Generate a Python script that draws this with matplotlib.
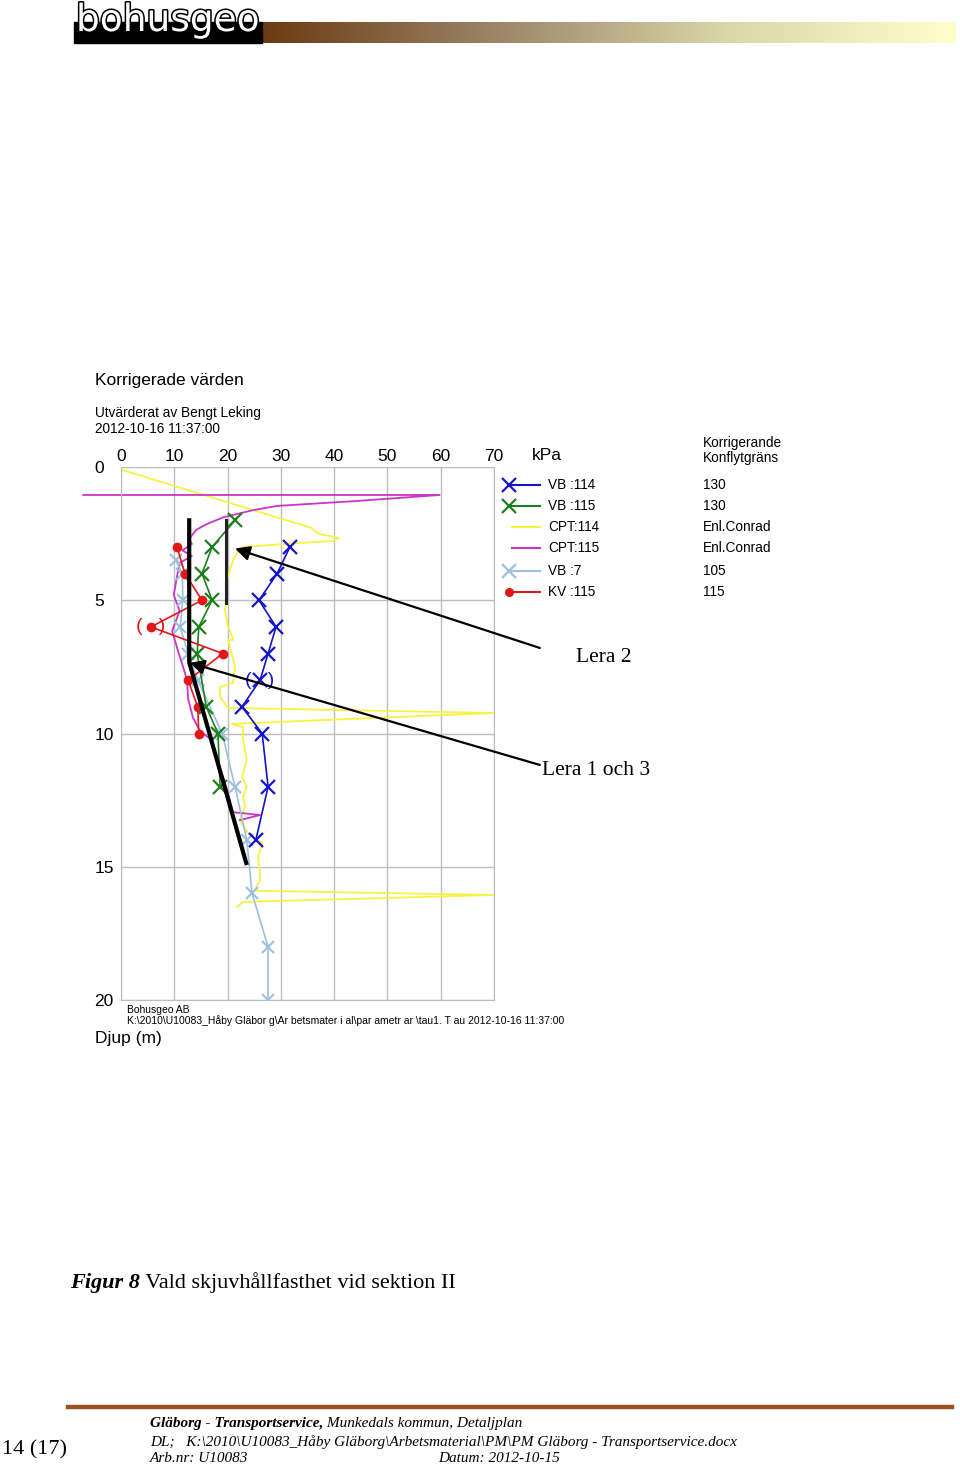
import numpy as np
import matplotlib
matplotlib.use("Agg")
import matplotlib.pyplot as plt
import matplotlib.patheffects as pe
from matplotlib.colors import LinearSegmentedColormap
from matplotlib.lines import Line2D
from matplotlib.patches import Rectangle

plt.rcParams['font.family'] = ['Liberation Sans', 'DejaVu Sans']

# --- data (kPa vs depth in m) ---
vb114_depth = [3, 4, 5, 6, 7, 8, 9, 10, 12, 14]
vb114_kpa = [31.7, 29.3, 25.9, 29.1, 27.6, 26.1, 22.7, 26.5, 27.6, 25.3]

vb115_depth = [2, 3, 4, 5, 6, 7, 9, 10, 12]
vb115_kpa = [21.4, 17.1, 15.2, 17.1, 14.6, 14.3, 16.0, 18.2, 18.6]

vb7_depth = [3.5, 4, 5, 6, 7, 8, 10, 12, 14, 16, 18, 20]
vb7_kpa = [10.3, 11.5, 11.6, 11.1, 12.6, 14.4, 19.0, 21.4, 23.6, 24.6, 27.6, 27.6]

kv115_depth = [3, 4, 5, 6, 7, 8, 9, 10]
kv115_kpa = [10.5, 12.0, 15.2, 5.6, 19.1, 12.6, 14.4, 14.6]

cpt114_kpa = [0.2, 35.8, 37.1, 40.9, 39.6, 33.6, 22.9, 21.8, 21.0, 19.9, 19.7, 19.5,
              20.1, 20.8, 21.0, 20.1, 21.4, 21.0, 18.6, 18.6, 20.1, 69.8, 20.8, 22.9,
              22.9, 23.6, 22.7, 23.6, 22.9, 23.3, 22.3, 23.8, 25.5, 26.6, 25.7, 26.1,
              26.1, 25.1, 25.5, 69.8, 22.9, 21.8]
cpt114_depth = [0.11, 2.29, 2.51, 2.66, 2.78, 2.85, 3.0, 3.23, 3.5, 4.24, 4.99, 5.37,
                6.0, 6.3, 6.49, 6.49, 7.5, 8.1, 8.26, 8.63, 9.04, 9.23, 9.64, 9.76,
                10.24, 10.99, 11.63, 12.0, 12.38, 12.76, 13.25, 13.73, 14.0, 14.11, 14.63, 15.23,
                15.5, 15.87, 15.9, 16.06, 16.32, 16.51]

cpt115_kpa = [-7.1, 59.8, 43.9, 29.3, 25.0, 19.3, 16.1, 14.1, 12.8, 13.3, 11.5, 13.3,
              11.0, 10.7, 9.9, 11.0, 9.6, 10.7, 11.8, 12.4, 12.6, 13.5, 14.8, 16.7,
              18.6, 19.9, 21.0, 26.1, 22.3]
cpt115_depth = [1.05, 1.05, 1.28, 1.46, 1.61, 1.88, 2.14, 2.36, 2.7, 2.89, 3.13, 3.34,
                3.6, 3.9, 4.8, 5.4, 6.15, 6.9, 7.6, 8.0, 8.7, 9.4, 9.9, 10.2,
                11.3, 12.1, 12.95, 13.06, 13.25]

# chosen strength lines
sel_kpa = [12.8, 12.8, 23.5]
sel_depth = [2.0, 7.33, 14.86]
sel2_kpa = [19.7, 19.7]
sel2_depth = [2.0, 5.1]

x_ticks = [0, 10, 20, 30, 40, 50, 60, 70]
y_ticks = [0, 5, 10, 15, 20]

legend_names = ['VB :114', 'VB :115', 'CPT:114', 'CPT:115', 'VB :7', 'KV :115']
legend_values = ['130', '130', 'Enl.Conrad', 'Enl.Conrad', '105', '115']

c_vb114 = '#1414C8'
c_vb115 = '#1E7F1E'
c_cpt114 = '#F8F240'
c_cpt115 = '#CC33CC'
c_vb7 = '#9CC0E0'
c_kv115 = '#E01818'

W, H = 960, 1468
fig = plt.figure(figsize=(W / 100, H / 100), dpi=100)


def fx(px):
    return px / W


def fy(py):
    return 1 - py / H


# --- header: logo and gradient bar ---
fig.patches.append(Rectangle((fx(74), fy(43)), fx(262) - fx(74), 21 / H,
                             transform=fig.transFigure, color='black', zorder=1))
ax_bar = fig.add_axes([fx(262), fy(43), (955 - 262) / W, 21 / H])
cmap = LinearSegmentedColormap.from_list('bohus', ['#6B3A12', '#9C8466', '#D9D6A8', '#FFFFCC'])
ax_bar.imshow(np.linspace(0, 1, 256)[None, :], aspect='auto', cmap=cmap)
ax_bar.axis('off')
logo = fig.text(fx(76), fy(31), 'bohusgeo', fontsize=27, color='white',
                family='DejaVu Sans', va='baseline', zorder=5)
logo.set_path_effects([pe.Stroke(linewidth=2.2, foreground='black'), pe.Normal()])

# --- chart ---
ax = fig.add_axes([fx(121), fy(1000), (494 - 121) / W, (1000 - 467) / H])
ax.set_xlim(0, 70)
ax.set_ylim(20, 0)

ax.plot(cpt114_kpa, cpt114_depth, color=c_cpt114, lw=1.3, zorder=2)
ax.plot(cpt115_kpa, cpt115_depth, color=c_cpt115, lw=1.3, zorder=2, clip_on=False)
ax.plot(vb7_kpa, vb7_depth, color=c_vb7, lw=1.2, marker='x', ms=9, mew=1.5, zorder=3)
ax.plot(vb115_kpa, vb115_depth, color=c_vb115, lw=1.2, marker='x', ms=10, mew=1.6, zorder=3)
ax.plot(vb114_kpa, vb114_depth, color=c_vb114, lw=1.2, marker='x', ms=10, mew=1.6, zorder=3)
ax.plot(kv115_kpa, kv115_depth, color=c_kv115, lw=1.2, marker='o', ms=6, zorder=4)

# questioned values in brackets
ax.text(kv115_kpa[3], kv115_depth[3], '(   )', color=c_kv115, fontsize=14,
        ha='center', va='center', zorder=4)
ax.text(vb114_kpa[5], vb114_depth[5], '(   )', color=c_vb114, fontsize=14,
        ha='center', va='center', zorder=4)

ax.plot(sel_kpa, sel_depth, color='black', lw=3, zorder=5)
ax.plot(sel2_kpa, sel2_depth, color='#222222', lw=2.2, zorder=5)

arrow = dict(arrowstyle='-|>', color='black', lw=1.6, mutation_scale=22, shrinkA=0, shrinkB=0)
ax.annotate('', xy=(21.4, 3.06), xytext=(78.6, 6.79), arrowprops=arrow,
            annotation_clip=False, zorder=6)
ax.annotate('', xy=(12.9, 7.35), xytext=(78.6, 11.18), arrowprops=arrow,
            annotation_clip=False, zorder=6)

ax.set_xticks(x_ticks)
ax.set_yticks(y_ticks)
ax.xaxis.tick_top()
ax.set_xticklabels([str(v) for v in x_ticks], fontsize=12.5)
ax.set_yticklabels([str(v) for v in y_ticks], fontsize=12.5, ha='left')
ax.tick_params(axis='x', length=0, pad=2)
ax.tick_params(axis='y', length=0, pad=19)
ax.grid(True, color='#BDBDBD', lw=1)
for s in ax.spines.values():
    s.set_color('#BDBDBD')
ax.set_axisbelow(True)

# --- texts around chart ---
fig.text(fx(95), fy(381), 'Korrigerade värden', fontsize=12.5, va='center')
fig.text(fx(95), fy(413), 'Utvärderat av Bengt Leking', fontsize=9.8, va='center')
fig.text(fx(95), fy(429), '2012-10-16 11:37:00', fontsize=9.8, va='center')
fig.text(fx(532), fy(456), 'kPa', fontsize=12.5, va='center')
fig.text(fx(703), fy(443), 'Korrigerande', fontsize=9.8, va='center')
fig.text(fx(703), fy(458), 'Konflytgräns', fontsize=9.8, va='center')

styles = [
    dict(color=c_vb114, marker='x', ms=10, mew=1.6),
    dict(color=c_vb115, marker='x', ms=10, mew=1.6),
    dict(color=c_cpt114, marker=None),
    dict(color=c_cpt115, marker=None),
    dict(color=c_vb7, marker='x', ms=10, mew=1.6),
    dict(color=c_kv115, marker='o', ms=5.5),
]
rows_y = [485, 506, 527, 548, 571, 592]
for name, val, st, yy in zip(legend_names, legend_values, styles, rows_y):
    x0 = 509 if st['marker'] else 512
    ln = Line2D([fx(x0), fx(540)], [fy(yy), fy(yy)], transform=fig.transFigure,
                lw=1.5, markevery=[0], **st)
    fig.add_artist(ln)
    fig.text(fx(548), fy(yy), name, fontsize=9.8, va='center')
    fig.text(fx(703), fy(yy), val, fontsize=9.8, va='center')

fig.text(fx(576), fy(657), 'Lera 2', family='Liberation Serif', fontsize=15.5, va='center')
fig.text(fx(542), fy(771), 'Lera 1 och 3', family='Liberation Serif', fontsize=15.5, va='center')

fig.text(fx(127), fy(1010), 'Bohusgeo AB', fontsize=7.5, va='center')
fig.text(fx(127), fy(1021),
         r'K:\2010\U10083_Håby Gläbor g\Ar betsmater i al\par ametr ar \tau1. T au 2012-10-16 11:37:00',
         fontsize=7.5, va='center')
fig.text(fx(95), fy(1038), 'Djup (m)', fontsize=12.5, va='center')

# --- caption ---
cap = fig.text(fx(70), fy(1283), 'Figur 8', family='Liberation Serif', fontsize=16,
               fontweight='bold', fontstyle='italic', va='center')
ax.annotate(' Vald skjuvhållfasthet vid sektion II', xy=(1, 0.5), xycoords=cap,
            family='Liberation Serif', fontsize=16, va='center', ha='left',
            annotation_clip=False)

# --- footer ---
fig.add_artist(Line2D([fx(68), fx(952)], [fy(1406.5), fy(1406.5)],
                      transform=fig.transFigure, color='#9A5220', lw=3.2))
fig.text(fx(2), fy(1450), '14 (17)', family='Liberation Serif', fontsize=16, va='center')
f1 = fig.text(fx(150), fy(1424), 'Gläborg - Transportservice,', family='Liberation Serif',
              fontsize=11, fontweight='bold', fontstyle='italic', va='center')
ax.annotate(' Munkedals kommun, Detaljplan', xy=(1, 0.5), xycoords=f1,
            family='Liberation Serif', fontsize=11, fontstyle='italic', va='center',
            annotation_clip=False)
fig.text(fx(150), fy(1442),
         r'DL;   K:\2010\U10083_Håby Gläborg\Arbetsmaterial\PM\PM Gläborg - Transportservice.docx',
         family='Liberation Serif', fontsize=11, fontstyle='italic', va='center')
fig.text(fx(150), fy(1459), 'Arb.nr: U10083', family='Liberation Serif', fontsize=11,
         fontstyle='italic', va='center')
fig.text(fx(438), fy(1459), 'Datum: 2012-10-15', family='Liberation Serif', fontsize=11,
         fontstyle='italic', va='center')

fig.savefig('out.png', dpi=100)
